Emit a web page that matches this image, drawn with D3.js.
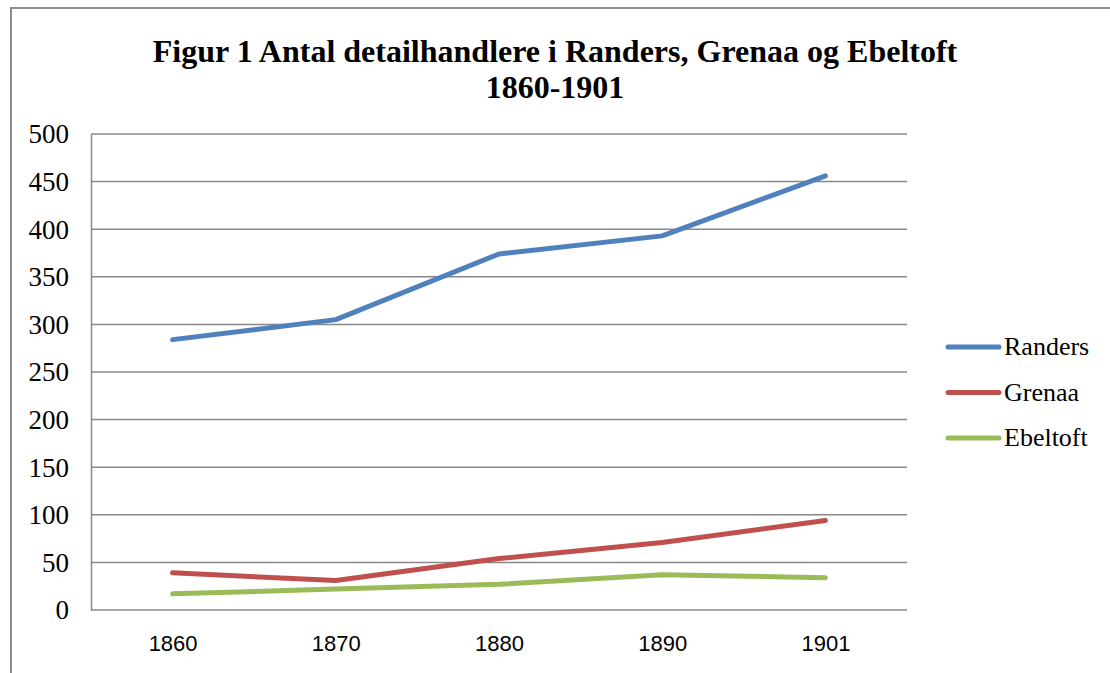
<!DOCTYPE html>
<html><head><meta charset="utf-8">
<script src="https://cdn.jsdelivr.net/npm/d3@7"></script>
<style>body{margin:0;background:#fff;}</style>
</head><body>
<svg id="c" width="1110" height="673"></svg>
<script>
const years = ["1860", "1870", "1880", "1890", "1901"];
const randers = [284, 305, 374, 393, 456];
const grenaa = [39, 31, 54, 71, 94];
const ebeltoft = [17, 22, 27, 37, 34];
const seriesNames = ["Randers", "Grenaa", "Ebeltoft"];
const yTicks = [0, 50, 100, 150, 200, 250, 300, 350, 400, 450, 500];
const titleLines = ["Figur 1 Antal detailhandlere i Randers, Grenaa og Ebeltoft", "1860-1901"];

const colors = ["#4F81BD", "#C0504D", "#9BBB59"];
const seriesValues = [randers, grenaa, ebeltoft];

const svg = d3.select("#c");
const grid = "#888888";
const serif = "'Liberation Serif', 'Times New Roman', serif";

// outer border
svg.append("path").attr("d", "M11,700 L11,8 L1120,8")
  .attr("fill", "none").attr("stroke", "#8c8c8c").attr("stroke-width", 2);

// title
svg.selectAll("text.title").data(titleLines).enter().append("text")
  .attr("class", "title")
  .attr("x", 555).attr("y", (d, i) => 62 + i * 36)
  .attr("text-anchor", "middle")
  .style("font-family", serif)
  .style("font-weight", "bold").style("font-size", "32px")
  .text(d => d);

const pL = 91, pR = 907, pT = 134, pB = 610;
const x = d3.scalePoint().domain(years).range([pL, pR]).padding(0.5);
const y = d3.scaleLinear().domain([0, 500]).range([pB, pT]);

// gridlines
svg.append("g").selectAll("line").data(yTicks).enter().append("line")
  .attr("x1", pL).attr("x2", pR)
  .attr("y1", d => y(d)).attr("y2", d => y(d))
  .attr("stroke", grid).attr("stroke-width", 1.5);

// y axis
const yAxis = svg.append("g").attr("transform", `translate(${pL},0)`)
  .call(d3.axisLeft(y).tickValues(yTicks).tickSize(0).tickPadding(22));
yAxis.attr("font-family", serif).attr("font-size", 27);
yAxis.select(".domain").attr("stroke", grid).attr("stroke-width", 1.5);
yAxis.selectAll("text").attr("fill", "#000").attr("dy", "0.33em")
  .style("font-family", serif);

// x axis
const xAxis = svg.append("g").attr("transform", `translate(0,${pB})`)
  .call(d3.axisBottom(x).tickSize(0).tickPadding(25));
xAxis.attr("font-family", "'Liberation Sans', Arial, sans-serif").attr("font-size", 22);
xAxis.select(".domain").remove();
xAxis.selectAll("text").attr("fill", "#000");

// lines
const line = d3.line().x((d, i) => x(years[i])).y(d => y(d));
seriesValues.forEach((vals, k) => {
  svg.append("path").datum(vals).attr("d", line)
    .attr("fill", "none").attr("stroke", colors[k]).attr("stroke-width", 5)
    .attr("stroke-linecap", "round").attr("stroke-linejoin", "round");
});

// legend
const lg = svg.append("g");
seriesNames.forEach((n, k) => {
  const yy = 347 + k * 45.5;
  lg.append("line").attr("x1", 948).attr("x2", 999).attr("y1", yy).attr("y2", yy)
    .attr("stroke", colors[k]).attr("stroke-width", 5).attr("stroke-linecap", "round");
  lg.append("text").attr("x", 1004).attr("y", yy + 8)
    .style("font-family", serif)
    .style("font-size", "26px").text(n);
});
</script>
</body></html>
